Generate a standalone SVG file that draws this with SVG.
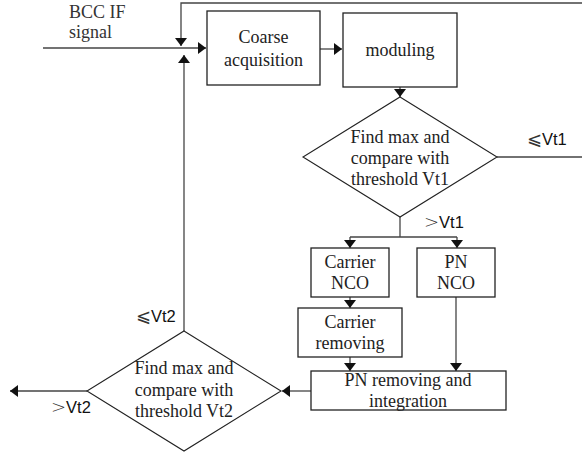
<svg xmlns="http://www.w3.org/2000/svg" width="582" height="454" viewBox="0 0 582 454">
  <style>
    .box { fill: #ffffff; stroke: #222222; stroke-width: 1.3; }
    .dia { fill: #ffffff; stroke: #222222; stroke-width: 1.1; }
    .wire { fill: none; stroke: #444444; stroke-width: 1.3; }
    .lbl { font-family: "Liberation Serif", "Times New Roman", serif; font-size: 18px; fill: #222222; text-anchor: middle; }
    .cm { font-family: "Liberation Serif", "Times New Roman", serif; font-size: 18px; fill: #333333; }
    .cond { font-family: "Liberation Sans", Arial, sans-serif; font-size: 16.5px; fill: #111111; }
    .sym { font-family: "DejaVu Sans", sans-serif; font-size: 18px; font-weight: 300; fill: #333333; }
  </style>
  <defs>
    <marker id="head" viewBox="0 0 8 12" refX="8" refY="6" markerWidth="8" markerHeight="12" markerUnits="userSpaceOnUse" orient="auto">
      <path d="M0,0 L8,6 L0,12 Z" fill="#111111"/>
    </marker>
  </defs>

  <!-- connectors -->
  <g id="connectors">
    <!-- signal input into coarse acquisition -->
    <path class="wire" d="M43,48 H206" marker-end="url(#head)"/>
    <!-- coarse acquisition to moduling -->
    <path class="wire" d="M320,49 H342" marker-end="url(#head)"/>
    <!-- moduling to first decision -->
    <path class="wire" d="M400,87 V97" marker-end="url(#head)"/>
    <!-- first decision, not above Vt1: loop back to the input -->
    <path class="wire" d="M497,157 H592 V3 H181 V46" marker-end="url(#head)"/>
    <!-- first decision, above Vt1: split to both NCOs -->
    <path class="wire" d="M400,217 V237"/>
    <path class="wire" d="M350,237 H457"/>
    <path class="wire" d="M350,237 V248" marker-end="url(#head)"/>
    <path class="wire" d="M457,237 V248" marker-end="url(#head)"/>
    <!-- carrier NCO to carrier removing -->
    <path class="wire" d="M350,297 V308" marker-end="url(#head)"/>
    <!-- carrier removing to PN removing -->
    <path class="wire" d="M350,357 V371" marker-end="url(#head)"/>
    <!-- PN NCO to PN removing -->
    <path class="wire" d="M456,297 V371" marker-end="url(#head)"/>
    <!-- PN removing to second decision -->
    <path class="wire" d="M311,391 H282" marker-end="url(#head)"/>
    <!-- second decision, not above Vt2: back up to the input -->
    <path class="wire" d="M184,331 V55" marker-end="url(#head)"/>
    <!-- second decision, above Vt2: output -->
    <path class="wire" d="M87,391 H10" marker-end="url(#head)"/>
  </g>

  <!-- condition labels -->
  <g id="conditions">
    <text class="cond" x="527" y="145"><tspan class="sym">⩽</tspan>Vt1</text>
    <text class="cond" x="424" y="228"><tspan class="sym">&gt;</tspan>Vt1</text>
    <text class="cond" x="136" y="322"><tspan class="sym">⩽</tspan>Vt2</text>
    <text class="cond" x="51" y="413"><tspan class="sym">&gt;</tspan>Vt2</text>
  </g>

  <!-- input label -->
  <g id="input">
    <text class="cm" x="69" y="18">BCC IF</text>
    <text class="cm" x="69" y="38">signal</text>
  </g>

  <g id="coarse">
    <rect class="box" x="207" y="11" width="113" height="74"/>
    <text class="lbl" x="263.5" y="43">Coarse</text>
    <text class="lbl" x="263.5" y="66">acquisition</text>
  </g>

  <g id="moduling">
    <rect class="box" x="343" y="13" width="114" height="74"/>
    <text class="lbl" x="400" y="56" fill="#444444">moduling</text>
  </g>

  <g id="decision1">
    <polygon class="dia" points="400,97 497,157 400,217 303,157"/>
    <text class="lbl" x="400" y="143">Find max and</text>
    <text class="lbl" x="400" y="164">compare with</text>
    <text class="lbl" x="400" y="185">threshold Vt1</text>
  </g>

  <g id="carrier-nco">
    <rect class="box" x="311" y="248" width="78" height="49"/>
    <text class="lbl" x="350" y="268">Carrier</text>
    <text class="lbl" x="350" y="289">NCO</text>
  </g>

  <g id="pn-nco">
    <rect class="box" x="417" y="248" width="78" height="49"/>
    <text class="lbl" x="456" y="268">PN</text>
    <text class="lbl" x="456" y="289">NCO</text>
  </g>

  <g id="carrier-removing">
    <rect class="box" x="298" y="308" width="104" height="49"/>
    <text class="lbl" x="350" y="328">Carrier</text>
    <text class="lbl" x="350" y="349">removing</text>
  </g>

  <g id="pn-removing">
    <rect class="box" x="311" y="371" width="195" height="39"/>
    <text class="lbl" x="408" y="386">PN removing and</text>
    <text class="lbl" x="408" y="407">integration</text>
  </g>

  <g id="decision2">
    <polygon class="dia" points="184,331 281,391 184,451 87,391"/>
    <text class="lbl" x="184" y="374">Find max and</text>
    <text class="lbl" x="184" y="396">compare with</text>
    <text class="lbl" x="184" y="417">threshold Vt2</text>
  </g>
</svg>
